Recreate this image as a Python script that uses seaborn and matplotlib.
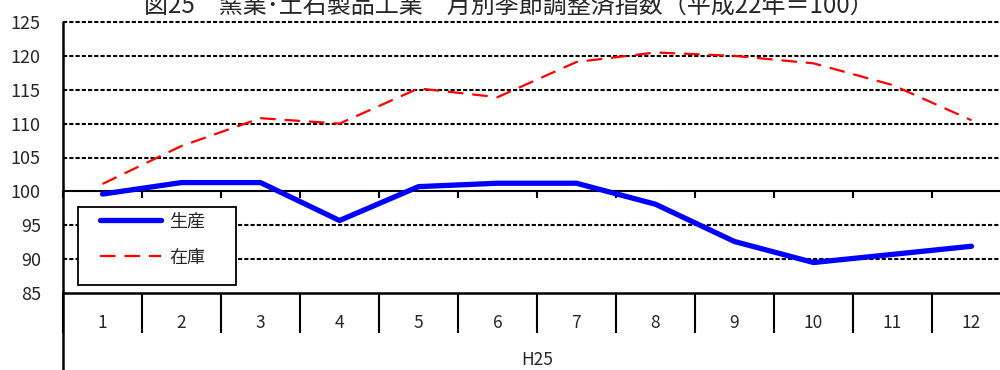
import matplotlib
matplotlib.use("Agg")
import matplotlib.pyplot as plt
import seaborn as sns
import pandas as pd
import numpy as np
from matplotlib.lines import Line2D
from matplotlib.patches import Rectangle

months = ["1", "2", "3", "4", "5", "6", "7", "8", "9", "10", "11", "12"]
production = [99.6, 101.3, 101.3, 95.7, 100.7, 101.2, 101.2, 98.1, 92.6, 89.5, 90.7, 91.9]
inventory = [101.1, 106.7, 110.8, 110.0, 115.2, 113.9, 119.1, 120.5, 120.0, 118.9, 115.7, 110.5]
series_names = ["生産", "在庫"]
year_label = "H25"
title = "図25　窯業･土石製品工業　月別季節調整済指数（平成22年＝100）"
yticks = [85, 90, 95, 100, 105, 110, 115, 120, 125]

sns.set_theme(style="white")
plt.rcParams['font.family'] = ['Noto Sans CJK JP', 'DejaVu Sans']

W, H = 1000, 370
fig = plt.figure(figsize=(W / 100, H / 100), dpi=100)

def fx(px):
    return px / W

def fy(py):
    return 1 - py / H

left, right, top, bottom = 63, 1011, 22, 293
ax = fig.add_axes([fx(left), fy(bottom), fx(right - left), fy(top) - fy(bottom)])

pos = np.arange(len(months))
df = pd.DataFrame({
    "pos": np.concatenate([pos, pos]),
    "value": production + inventory,
    "series": [series_names[0]] * len(months) + [series_names[1]] * len(months),
})

sns.lineplot(data=df[df.series == series_names[0]], x="pos", y="value", ax=ax,
             color="#0000ff", lw=3.8, legend=False, zorder=5)
sns.lineplot(data=df[df.series == series_names[1]], x="pos", y="value", ax=ax,
             color="#ff0000", lw=1.6, legend=False, zorder=5,
             dashes=False)
ax.lines[-1].set_linestyle((0, (7, 4)))

ax.set_xlim(-0.5, len(months) - 0.5)
ax.set_ylim(85, 125)

# grid
ax.set_yticks(yticks)
ax.set_yticklabels([str(v) for v in yticks], fontsize=13)
ax.tick_params(axis="y", length=0, pad=16)
for v in yticks:
    if v in (85, 100):
        continue
    ax.axhline(v, color="black", lw=1.5, ls=(0, (2, 1)), zorder=1, clip_on=False)
ax.axhline(100, color="black", lw=1.5, zorder=2)

for s in ["top", "right"]:
    ax.spines[s].set_visible(False)
ax.spines["left"].set_visible(False)
ax.spines["bottom"].set_color("black")
ax.spines["bottom"].set_linewidth(1.8)

# category table below
bounds = np.arange(len(months) + 1) - 0.5
ax.set_xticks(bounds)
ax.set_xticklabels([""] * len(bounds))
ax.tick_params(axis="x", which="major", direction="out", length=29, width=1.5,
               color="black", bottom=True)
ax.set_xticks(pos, minor=True)
ax.set_xticklabels(months, minor=True, fontsize=12.5)
ax.tick_params(axis="x", which="minor", length=0, pad=15)
ax.set_xlabel("")
ax.set_ylabel("")

# ticks on the 100 line
sec = ax.secondary_xaxis((100 - 85) / (125 - 85))
sec.set_xticks(bounds)
sec.set_xticklabels([""] * len(bounds))
sec.tick_params(direction="out", length=5, width=1.5, color="black")
sec.spines["bottom"].set_visible(False)

# left axis line extended to figure bottom
fig.add_artist(Line2D([fx(left), fx(left)], [0, fy(top)], color="black", lw=1.8))

fig.text(fx(537), fy(360), year_label, ha="center", va="center", fontsize=12.5)
fig.text(fx(509), fy(13), title, ha="center", va="baseline", fontsize=17.3)

# legend
fig.add_artist(Rectangle((fx(78), fy(285)), fx(236 - 78), fy(207) - fy(285),
                         transform=fig.transFigure, fill=True, facecolor="white",
                         edgecolor="black", lw=1.3, zorder=6))
handles = [Line2D([], [], color="#0000ff", lw=3.8),
           Line2D([], [], color="#ff0000", lw=1.6, ls=(0, (7, 4)))]
leg = fig.legend(handles, series_names, loc="upper left",
                 bbox_to_anchor=(fx(96), fy(209)), frameon=False, fontsize=13,
                 handlelength=3.4, handletextpad=0.45, labelspacing=1.0,
                 borderpad=0.2, borderaxespad=0)
leg.set_zorder(7)

fig.savefig("out.png", dpi=100)
